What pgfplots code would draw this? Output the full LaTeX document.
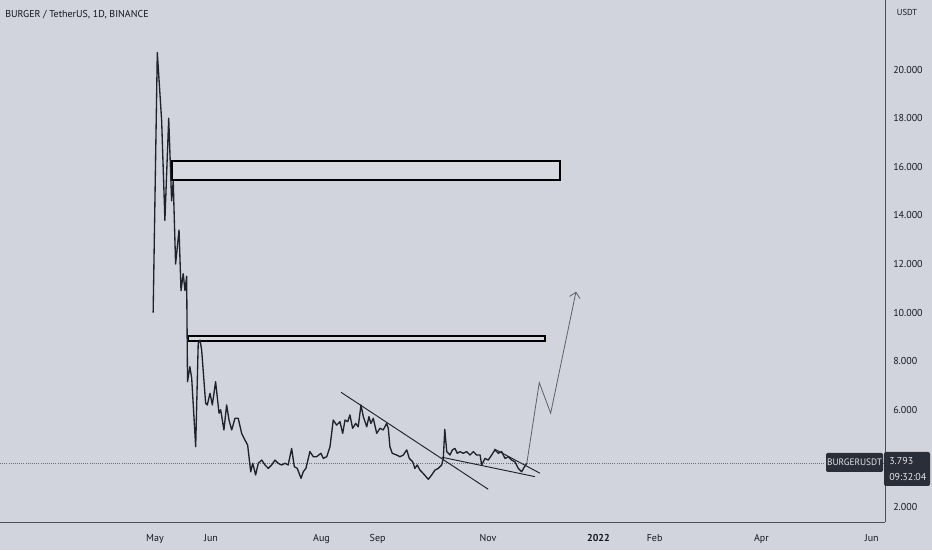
\documentclass[border=0pt]{standalone}
\usepackage{fontspec}
\setmainfont{PT Sans}
\usepackage{pgfplots}
\pgfplotsset{compat=1.18}
\usetikzlibrary{arrows.meta}

\definecolor{bgc}{HTML}{D1D4DC}
\definecolor{ink}{HTML}{1E222D}
\definecolor{axc}{HTML}{4A4E59}
\definecolor{lab}{HTML}{2A2E39}
\definecolor{txt}{HTML}{131722}
\definecolor{proj}{HTML}{5D606B}

\begin{document}
\begin{tikzpicture}
  % page = 932 x 550 px at 0.75pt per px
  \path[use as bounding box, fill=bgc] (0pt,-21pt) rectangle (699pt,391.5pt);

  \begin{axis}[
      at={(0pt,0pt)}, anchor=south west,
      scale only axis,
      width=663.75pt, height=391.5pt,
      xmin=-85.6, xmax=403.3,
      ymin=1.383, ymax=22.864,
      axis x line*=bottom, axis y line*=right,
      axis line style={draw=axc, line width=0.75pt},
      major tick length=0pt,
      clip=false,
      font=\fontsize{7.5}{9}\selectfont,
      xtick={0,31,92,123,184,245,276,335,396},
      xticklabels={May,Jun,Aug,Sep,Nov,\textbf{2022},Feb,Apr,Jun},
      xticklabel style={anchor=base, yshift=-14.5pt, text=txt},
      ytick={2,4,...,20},
      yticklabel style={anchor=west, inner sep=0pt, xshift=6pt, text=txt},
      /pgf/number format/.cd, fixed, fixed zerofill, precision=3,
      1000 sep={}, assume math mode=true,
    ]
    % last price line
    \addplot[axc!80, densely dotted, line width=0.6pt] coordinates {(-85.6,3.793) (403.3,3.793)};

    % boxes
    \addplot[black, line width=1.5pt, fill=bgc!85!white] coordinates
      {(9.2,15.46) (223.8,15.46) (223.8,16.25) (9.2,16.25)} -- cycle;
    \addplot[black, line width=1.5pt, fill=bgc!85!white] coordinates
      {(18.2,8.84) (215.5,8.84) (215.5,9.05) (18.2,9.05)} -- cycle;

    % price
    \addplot[ink, line width=1pt, line join=round] coordinates {
      (-1,10.0) (1.3,20.7) (3.7,17.9) (5.5,13.8) (7.6,18.0) (9.2,14.6) (10.1,15.4)
      (11.4,12.0) (13.3,13.4) (14.4,10.9) (15.6,11.6) (16.6,10.9) (17.5,11.5)
      (18.0,7.16) (19.3,7.77) (20.3,7.3) (22.5,4.48) (23.9,8.74) (24.9,8.87)
      (25.8,8.46) (28.0,6.27) (28.9,6.2) (30.4,6.68) (31.7,6.2) (33.5,7.16)
      (35.4,5.86) (36.3,6.0) (38.1,5.17) (39.6,6.2) (40.9,5.58) (42.4,5.17)
      (44.2,5.65) (46.0,5.65) (47.9,5.03) (49.7,4.76) (51.2,4.55) (52.9,3.45)
      (54.0,3.8) (55.6,3.32) (57.1,3.8) (59.0,3.93) (60.8,3.73) (62.6,3.59)
      (64.5,3.73) (66.3,3.93) (68.1,3.8) (70.0,3.73) (71.8,3.8) (73.6,3.73)
      (75.5,4.41) (77.0,3.66) (78.6,3.59) (80.7,3.18) (81.9,3.45) (83.4,3.59)
      (85.6,4.28) (87.5,4.07) (89.3,4.07) (91.7,4.21) (93.0,4.0) (94.9,4.07)
      (96.7,4.48) (98.5,5.58) (100.4,5.37) (102.2,5.51) (103.7,5.03) (105.0,5.58)
      (106.5,5.51) (107.7,5.79) (109.2,5.24) (110.9,5.44) (112.3,5.3) (113.8,6.2)
      (115.1,5.72) (117.0,5.3) (118.2,5.72) (119.3,5.44) (120.6,5.65) (122.5,5.03)
      (124.3,5.24) (126.1,5.17) (128.0,5.44) (128.9,5.24) (129.8,4.48) (131.1,4.21)
      (133.5,4.14) (135.4,4.07) (137.2,4.14) (139.1,4.35) (140.5,4.0) (142.4,3.86)
      (143.6,3.59) (144.9,3.73) (146.4,3.52) (148.2,3.38) (151.0,3.14) (152.9,3.32)
      (154.7,3.52) (156.5,3.59) (158.4,3.73) (159.3,4.0) (160.1,5.2) (161.2,4.28)
      (163.0,4.14) (164.3,4.35) (165.7,4.41) (167.0,4.21) (168.5,4.28) (170.3,4.21)
      (172.2,4.28) (174.0,4.14) (175.9,4.28) (177.7,4.14) (179.6,4.14) (180.5,3.73)
      (182.3,4.0) (184.1,3.93) (186.0,4.14) (187.8,4.35) (189.7,4.21) (191.5,4.28)
      (193.4,4.0) (195.2,4.07) (197.1,3.93) (198.9,3.86) (200.7,3.59) (202.6,3.45)
      (203.9,3.63) (205.4,3.79)
    };

    % trend lines
    \addplot[ink, line width=0.7pt] coordinates {(102.8,6.72) (184.1,2.73)};
    \addplot[ink, line width=0.7pt] coordinates {(158.4,4.05) (209.9,3.25)};
    \addplot[ink, line width=0.7pt] coordinates {(187.5,4.39) (212.7,3.39)};

    % projected path
    \addplot[proj, line width=0.6pt, -{Straight Barb[length=4pt]}] coordinates
      {(205.4,3.79) (212.3,7.12) (218.6,5.86) (232.6,10.86)};
  \end{axis}

  % title and labels
  \node[anchor=west, inner sep=0pt, text=txt, font=\fontsize{7.5}{9}\selectfont]
    at (3.75pt,380.25pt) {BURGER / TetherUS, 1D, BINANCE};
  \node[text=txt, font=\fontsize{6.5}{8}\selectfont] at (680.25pt,382.5pt) {USDT};

  \fill[lab, rounded corners=1pt] (619.5pt,37.5pt) rectangle (662.25pt,51.75pt);
  \node[text=bgc!60!white, font=\fontsize{7}{8}\selectfont] at (640.9pt,44.6pt) {BURGERUSDT};
  \fill[lab, rounded corners=1.5pt] (663pt,27pt) rectangle (697.5pt,52.5pt);
  \node[anchor=west, inner sep=0pt, text=bgc!60!white, font=\fontsize{7.5}{9}\selectfont] at (666.75pt,45.75pt) {3.793};
  \node[anchor=west, inner sep=0pt, text=bgc!60!white, font=\fontsize{7.5}{9}\selectfont] at (666.75pt,33.75pt) {09:32:04};
\end{tikzpicture}
\end{document}
